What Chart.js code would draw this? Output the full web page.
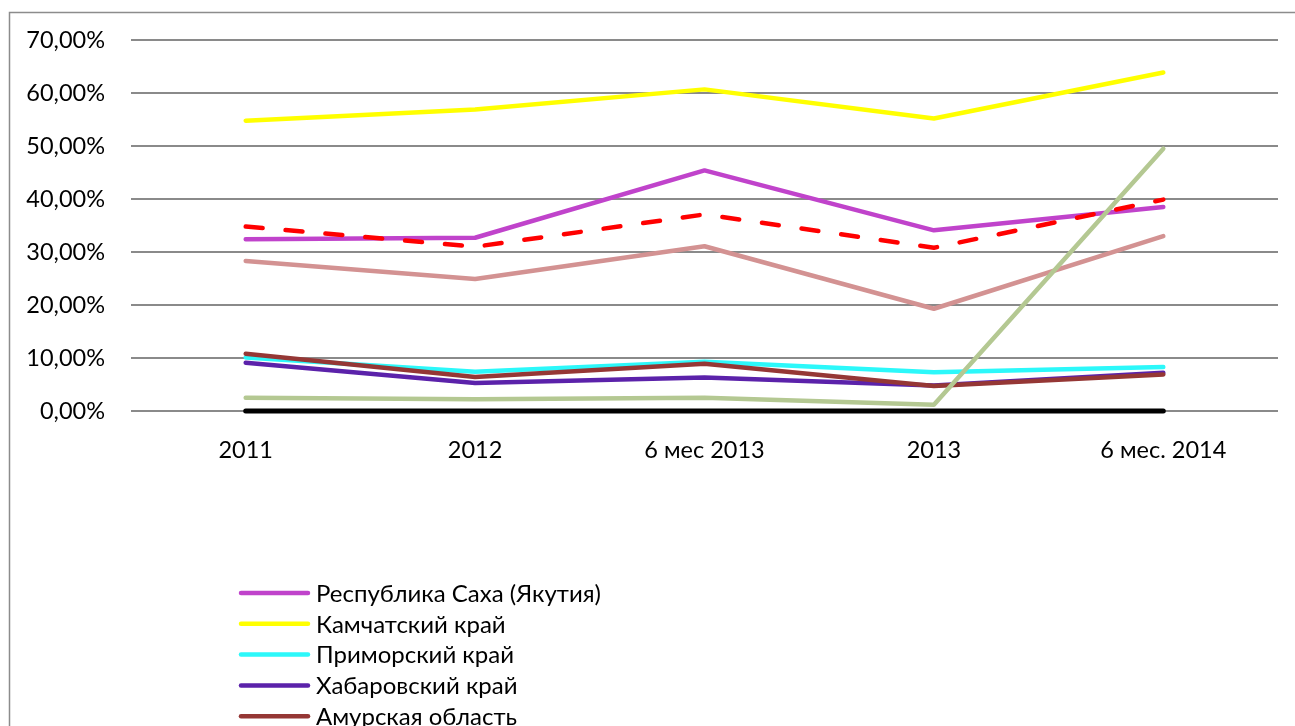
<!DOCTYPE html>
<html>
<head>
<meta charset="utf-8">
<script src="https://cdn.jsdelivr.net/npm/chart.js@4"></script>
<style>
  body { margin: 0; background: #fff; overflow: hidden; }
  canvas { display: block; }
</style>
</head>
<body>
<canvas id="chart" width="1295" height="726"></canvas>
<script>
// categories and series (percent)
const categories = ["2011", "2012", "6 мес 2013", "2013", "6 мес. 2014"];
const saha = [32.4, 32.7, 45.4, 34.1, 38.5];
const kamchatka = [54.8, 56.9, 60.7, 55.2, 63.9];
const primorye = [10.1, 7.4, 9.3, 7.3, 8.3];
const khabarovsk = [9.1, 5.3, 6.3, 4.8, 7.2];
const amur = [10.8, 6.4, 8.9, 4.7, 6.9];
const magadan = [28.3, 24.9, 31.1, 19.3, 33.0];
const dfo = [34.8, 31.0, 37.1, 30.8, 39.9];
const eao = [2.5, 2.2, 2.5, 1.2, 49.5];
const chukotka = [0, 0, 0, 0, 0];
const yTicks = [0, 10, 20, 30, 40, 50, 60, 70];

const FONT = "Lato, 'Open Sans', sans-serif";

function series(label, data, color, extra) {
  return Object.assign({
    label: label,
    data: data,
    borderColor: color,
    backgroundColor: color,
    borderWidth: 4.5,
    borderCapStyle: "round",
    borderJoinStyle: "round",
    pointRadius: 0,
    tension: 0,
    fill: false,
    clip: 10,
  }, extra || {});
}

const datasets = [
  series("Республика Саха (Якутия)", saha, "#C043CB"),
  series("Камчатский край", kamchatka, "#FFFF00"),
  series("Приморский край", primorye, "#2CF8FA"),
  series("Хабаровский край", khabarovsk, "#5B22AA"),
  series("Амурская область", amur, "#953735"),
  series("Магаданская область", magadan, "#D39292"),
  series("Дальневосточный ФО", dfo, "#FF0000", { borderDash: [17, 23] }),
  series("Еврейская АО", eao, "#B4C892"),
  series("Чукотский АО", chukotka, "#000000", { borderWidth: 5 }),
];
// later series sit on top, like in the original
datasets.forEach((d, i) => { d.order = datasets.length - i; });

// outer frame + legend list under the plot
const frameAndLegend = {
  id: "frameAndLegend",
  beforeDraw(chart) {
    const ctx = chart.ctx;
    ctx.save();
    ctx.strokeStyle = "#8c8c8c";
    ctx.lineWidth = 1.5;
    ctx.strokeRect(9.5, 12.5, 1400, 900);
    ctx.restore();
  },
  afterDraw(chart) {
    const ctx = chart.ctx;
    ctx.save();
    ctx.font = "24px " + FONT;
    ctx.textBaseline = "middle";
    ctx.fillStyle = "#000";
    chart.data.datasets.forEach((d, i) => {
      const y = 593 + i * 30.8;
      ctx.beginPath();
      ctx.strokeStyle = d.borderColor;
      ctx.lineWidth = 4.5;
      ctx.lineCap = "round";
      ctx.setLineDash(d.borderDash || []);
      ctx.moveTo(241, y);
      ctx.lineTo(308, y);
      ctx.stroke();
      ctx.setLineDash([]);
      ctx.fillText(d.label, 316, y + 1);
    });
    ctx.restore();
  },
};

new Chart(document.getElementById("chart"), {
  type: "line",
  data: { labels: categories, datasets: datasets },
  plugins: [frameAndLegend],
  options: {
    responsive: false,
    animation: false,
    devicePixelRatio: 1,
    layout: { padding: { top: 40, right: 17, bottom: 255, left: 0 } },
    plugins: { legend: { display: false }, tooltip: { enabled: false } },
    scales: {
      x: {
        offset: true,
        grid: { display: false },
        border: { display: false },
        ticks: { color: "#000", font: { family: FONT, size: 23.5 }, padding: 17, maxRotation: 0 },
        afterFit: (s) => { s.height = 60; },
      },
      y: {
        min: 0,
        max: 70,
        grid: { color: "#8a8a8a", lineWidth: 2, drawTicks: false },
        border: { display: false },
        afterBuildTicks: (s) => { s.ticks = yTicks.map((v) => ({ value: v })); },
        ticks: {
          color: "#000",
          font: { family: FONT, size: 23.5 },
          padding: 26,
          callback: (v) => v.toFixed(2).replace(".", ",") + "%",
        },
        afterFit: (s) => { s.width = 131; },
      },
    },
  },
});
</script>
</body>
</html>
